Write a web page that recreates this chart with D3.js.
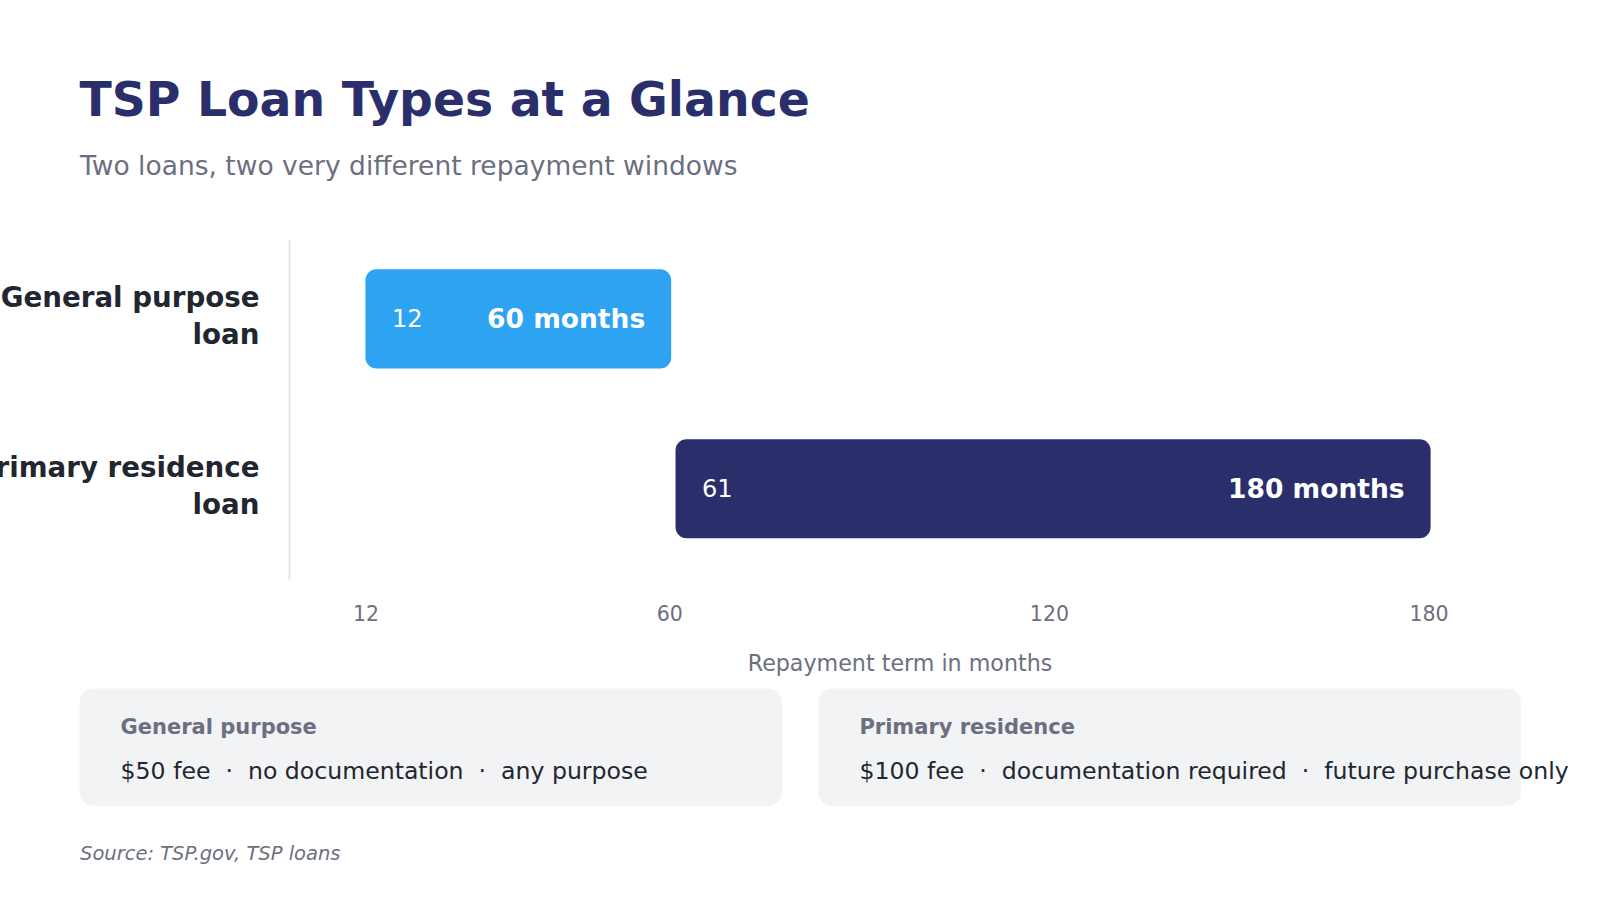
<!DOCTYPE html>
<html>
<head>
<meta charset="utf-8">
<script src="https://cdn.jsdelivr.net/npm/d3@7"></script>
<style>
  html, body { margin: 0; padding: 0; background: #ffffff; }
  svg { display: block; font-family: "DejaVu Sans", sans-serif; }
</style>
</head>
<body>
<svg id="chart" width="1600" height="900"></svg>
<script>
// ---- data ----
const categories = ["General purpose loan", "Primary residence loan"];
const categoryLines = [["General purpose", "loan"], ["Primary residence", "loan"]];
const termStart = [12, 61];
const termEnd = [60, 180];
const endLabels = ["60 months", "180 months"];
const barColors = ["#2ea3f2", "#2a2f6b"];
const tickValues = [12, 60, 120, 180];
const cardTitles = ["General purpose", "Primary residence"];
const cardTexts = [
  "$50 fee  \u00b7  no documentation  \u00b7  any purpose",
  "$100 fee  \u00b7  documentation required  \u00b7  future purchase only"
];

const svg = d3.select("#chart");
const navy = "#2a2f6b", gray = "#6b7080", dark = "#222630";

// title
svg.append("text").attr("x", 79.5).attr("y", 116)
  .attr("font-size", 47.3).attr("font-weight", "bold").attr("fill", navy)
  .text("TSP Loan Types at a Glance");
svg.append("text").attr("x", 80).attr("y", 175)
  .attr("font-size", 26.5).attr("fill", gray)
  .text("Two loans, two very different repayment windows");

// scales
const x = d3.scaleLinear().domain([0, 180]).range([289.5, 1428.6]);
const y = d3.scaleBand().domain(categories).range([239.8, 567.9])
  .paddingInner(0.417).paddingOuter(0.174);

// y axis line
svg.append("line").attr("x1", x(0)).attr("x2", x(0)).attr("y1", 239.8).attr("y2", 579.6)
  .attr("stroke", "#e3e4e8").attr("stroke-width", 2);

// category labels
categories.forEach((c, i) => {
  const cy = y(c) + y.bandwidth() / 2;
  const t = svg.append("text").attr("x", 259.5).attr("text-anchor", "end")
    .attr("font-size", 27.7).attr("font-weight", "bold").attr("fill", dark);
  categoryLines[i].forEach((ln, j) => {
    t.append("tspan").attr("x", 259.5).attr("y", cy - 11.6 + j * 36.7).text(ln);
  });
});

// bars
const rows = categories.map((c, i) => ({c, s: termStart[i], e: termEnd[i], lab: endLabels[i], col: barColors[i]}));
const g = svg.append("g");
g.selectAll("rect").data(rows).join("rect")
  .attr("x", d => x(d.s)).attr("y", d => y(d.c))
  .attr("width", d => x(d.e) - x(d.s) + 2).attr("height", y.bandwidth())
  .attr("rx", 11).attr("fill", d => d.col);
g.selectAll("text.start").data(rows).join("text").attr("class", "start")
  .attr("x", d => x(d.s) + 26.5).attr("y", d => y(d.c) + y.bandwidth() / 2)
  .attr("dy", "0.35em").attr("font-size", 24).attr("fill", "#ffffff")
  .text(d => d.s);
g.selectAll("text.end").data(rows).join("text").attr("class", "end")
  .attr("x", d => x(d.e) - 24).attr("y", d => y(d.c) + y.bandwidth() / 2)
  .attr("dy", "0.35em").attr("text-anchor", "end").attr("font-size", 26.5)
  .attr("font-weight", "bold").attr("fill", "#ffffff")
  .text(d => d.lab);

// x axis
const xAxis = svg.append("g").attr("transform", "translate(0,620.7)")
  .call(d3.axisBottom(x).tickValues(tickValues).tickSize(0).tickPadding(0));
xAxis.select(".domain").remove();
xAxis.selectAll("text").attr("font-size", 20.5).attr("fill", gray)
  .attr("font-family", "DejaVu Sans, sans-serif").attr("dy", null).attr("y", 0);

svg.append("text").attr("x", 900).attr("y", 671).attr("text-anchor", "middle")
  .attr("font-size", 22.2).attr("fill", gray).text("Repayment term in months");

// cards
const cardX = [79.6, 818.4];
cardTitles.forEach((t, i) => {
  svg.append("rect").attr("x", cardX[i]).attr("y", 688.5).attr("width", 702.5).attr("height", 117.5)
    .attr("rx", 14).attr("fill", "#f2f3f5");
  svg.append("text").attr("x", cardX[i] + 41).attr("y", 734)
    .attr("font-size", 21).attr("font-weight", "bold").attr("fill", gray).text(t);
  svg.append("text").attr("x", cardX[i] + 41).attr("y", 779)
    .attr("font-size", 23.6).attr("fill", dark).attr("xml:space", "preserve")
    .style("white-space", "pre").text(cardTexts[i]);
});

svg.append("text").attr("x", 80).attr("y", 860).attr("font-size", 19.5)
  .attr("font-style", "italic").attr("fill", gray).text("Source: TSP.gov, TSP loans");
</script>
</body>
</html>
